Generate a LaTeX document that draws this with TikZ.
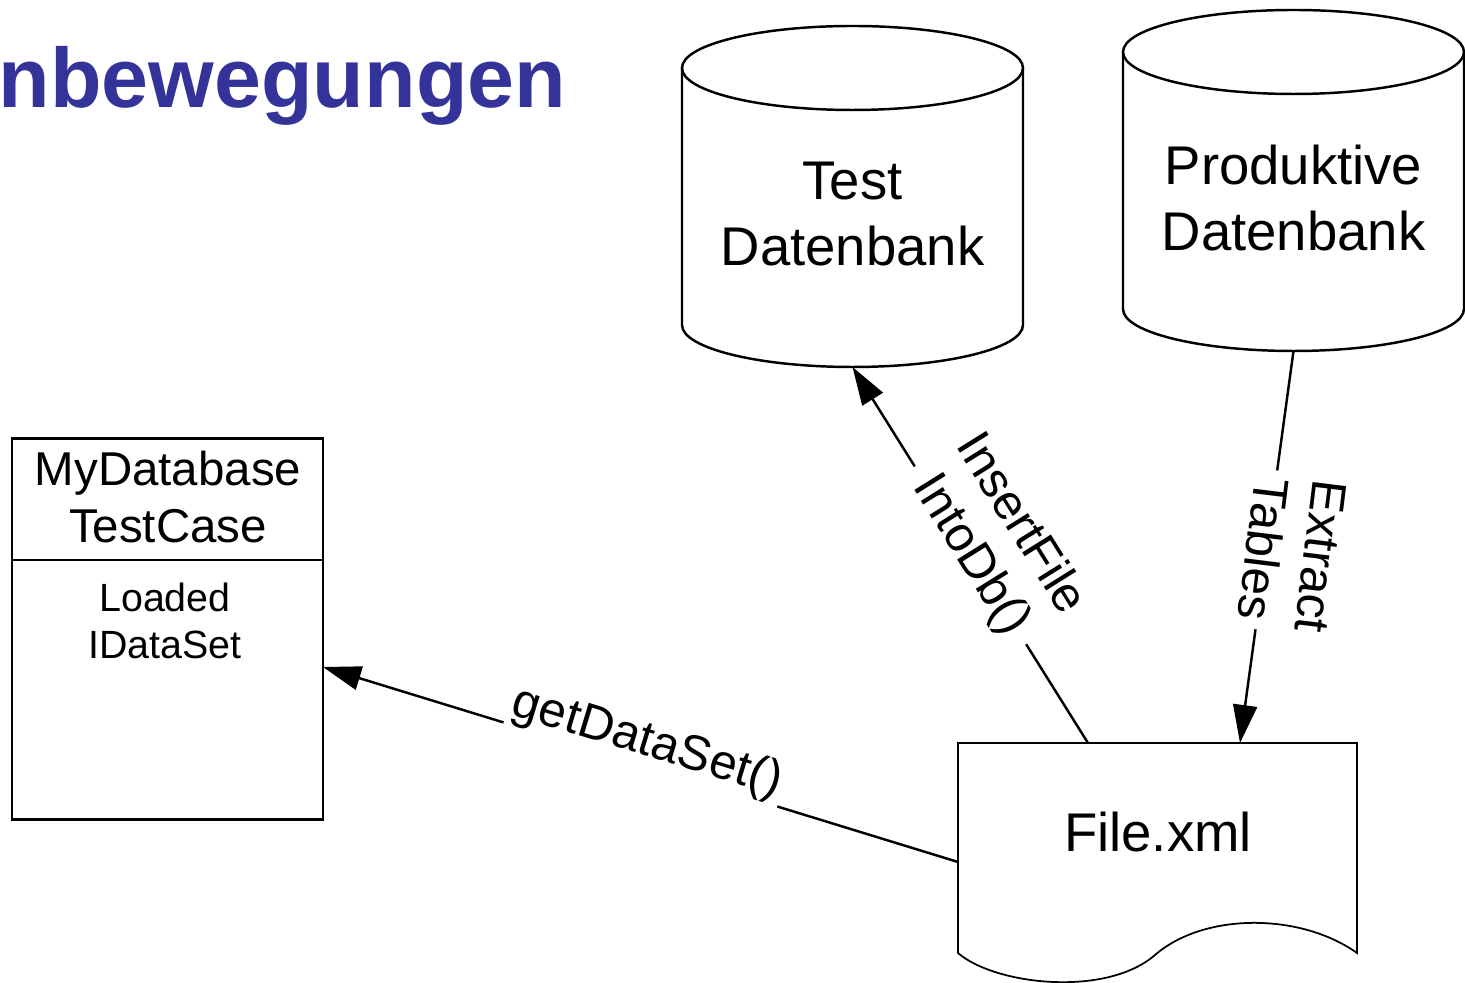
\documentclass[tikz,border=0pt]{standalone}
\usepackage{fontspec}
\setmainfont{Liberation Sans}
\usetikzlibrary{arrows.meta}
\definecolor{titleblue}{HTML}{333399}

\begin{document}
\begin{tikzpicture}[x=0.01cm, y=-0.01cm,
  conn/.style={-{Triangle[length=3.8mm,width=2.4mm]}, line width=0.7pt},
  lbl/.style={fill=white, inner sep=1pt, align=center, font=\fontsize{14}{16.5}\selectfont}]

\def \rx {170.5}
\def \ry {42}
\def \cylh {257}

\useasboundingbox (0,0) rectangle (1465,983);

\node[anchor=base west, inner sep=0, text=titleblue, font=\fontsize{24}{28}\selectfont\bfseries] (title) at (-2,108) {nbewegungen};

% the two databases
\foreach \nm/\cx/\cy/\txt in {testdb/852.5/68/{Test\\Datenbank}, proddb/1293.5/52/{Produktive\\Datenbank}}
{
    \draw[line width=0.7pt] (\cx,\cy) ellipse ({\rx} and {\ry});
    \draw[line width=0.7pt] (\cx-\rx,\cy) -- (\cx-\rx,\cy+\cylh)
        arc (180:0:{\rx} and {\ry}) -- (\cx+\rx,\cy);
    \node[align=center, font=\fontsize{15.5}{18.6}\selectfont] (\nm) at (\cx,\cy+146) {\txt};
    \coordinate (\nm-bot) at (\cx,\cy+\cylh+\ry);
}

% test case class
\node[draw, line width=0.8pt, minimum width=3.11cm, minimum height=3.8cm, inner sep=0] (tcase) at (167.5,629) {};
\draw[line width=0.8pt] (tcase.west |- 0,560) -- (tcase.east |- 0,560);
\node[align=center, font=\fontsize{13.5}{16.2}\selectfont] (tcname) at (168,497) {MyDatabase\\TestCase};
\node[align=center, font=\fontsize{11.2}{13.6}\selectfont] (tcattr) at (165,621) {Loaded\\IDataSet};
\coordinate (tcase-r) at (323,667);

% the xml file
\draw[line width=0.5pt] (958,953) -- (958,743) -- (1357,743) -- (1357,953)
    .. controls (1300,912.5) and (1204,912.5) .. (1155,955)
    .. controls (1106,997.5) and (995,985) .. cycle;
\node[font=\fontsize{15.5}{18.6}\selectfont] (file) at (1158,832) {File.xml};
\coordinate (file-l) at (958,862);
\coordinate (file-t1) at (1088,743);
\coordinate (file-t2) at (1240,743);

\draw[conn] (file-l) -- (tcase-r);
\draw[conn] (file-t1) -- (testdb-bot);
\draw[conn] (proddb-bot) -- (file-t2);

\node[lbl, rotate=-17] (getds) at (647,743) {getDataSet()};
\node[lbl, rotate=-58] (insert) at (995,540) {InsertFile\\IntoDb()};
\node[lbl, rotate=-97] (extract) at (1292,553) {Extract\\Tables};
\end{tikzpicture}
\end{document}
